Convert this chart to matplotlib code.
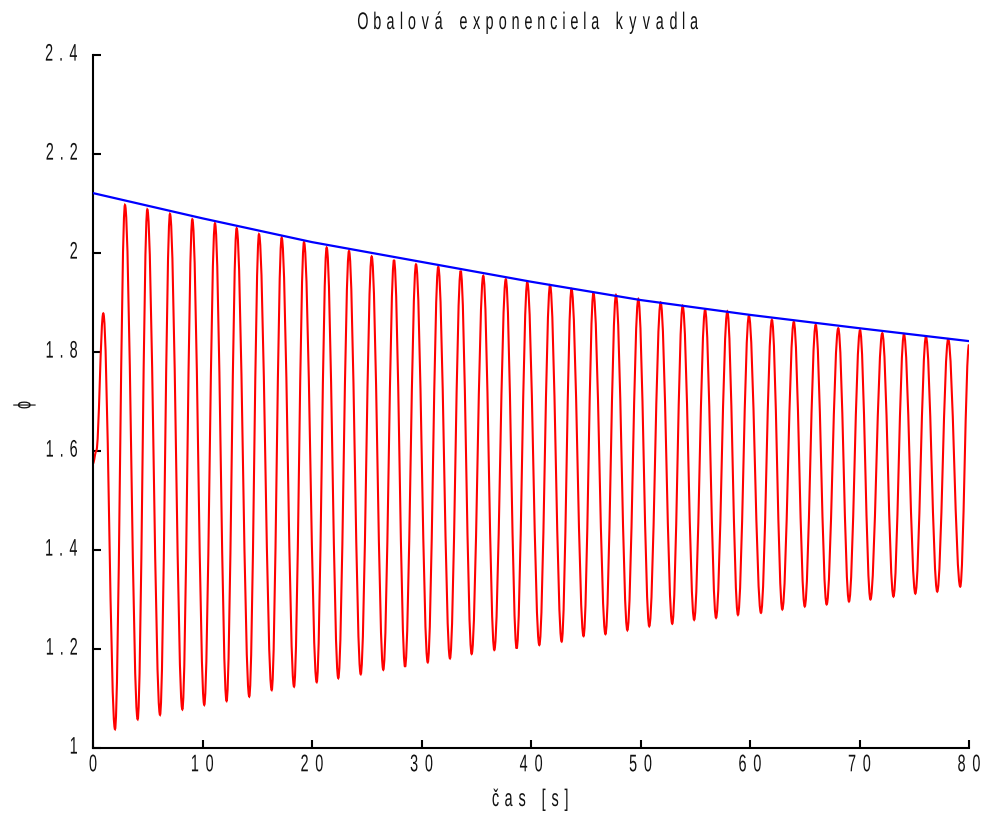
import matplotlib
matplotlib.use("Agg")
import matplotlib.pyplot as plt
import numpy as np
from matplotlib.textpath import TextPath
from matplotlib.font_manager import FontProperties
from matplotlib.path import Path
from matplotlib.patches import PathPatch
from matplotlib.transforms import Affine2D

# --- data ---
start_t = [0.0, 0.3]
start_v = [1.575, 1.600]

peak_t = [0.94, 2.92, 4.96, 7.03, 9.07, 11.14, 13.12, 15.16, 17.23, 19.27,
          21.34, 23.38, 25.45, 27.49, 29.50, 31.53, 33.58, 35.64, 37.70, 39.66,
          41.74, 43.70, 45.70, 47.76, 49.80, 51.84, 53.85, 55.90, 57.93, 59.90,
          62.00, 64.00, 66.00, 68.06, 70.05, 72.08, 74.06, 76.07, 78.10]
peak_v = [1.878, 2.097, 2.088, 2.079, 2.068, 2.060, 2.050, 2.038, 2.031, 2.022,
          2.011, 2.004, 1.993, 1.986, 1.977, 1.972, 1.964, 1.954, 1.947, 1.941,
          1.935, 1.927, 1.919, 1.915, 1.907, 1.900, 1.893, 1.885, 1.882, 1.873,
          1.865, 1.861, 1.855, 1.848, 1.844, 1.838, 1.836, 1.831, 1.826]

trough_t = [2.01, 4.08, 6.12, 8.16, 10.16, 12.20, 14.27, 16.32, 18.36, 20.43,
            22.40, 24.45, 26.51, 28.50, 30.57, 32.60, 34.58, 36.65, 38.69, 40.76,
            42.80, 44.80, 46.80, 48.80, 50.80, 52.90, 54.90, 56.90, 58.90, 61.00,
            62.95, 65.00, 67.00, 69.04, 71.00, 73.10, 75.10, 77.10, 79.20]
trough_v = [1.038, 1.058, 1.067, 1.078, 1.087, 1.095, 1.104, 1.117, 1.124, 1.133,
            1.141, 1.149, 1.158, 1.164, 1.173, 1.181, 1.190, 1.198, 1.201, 1.208,
            1.215, 1.226, 1.230, 1.238, 1.246, 1.251, 1.259, 1.263, 1.269, 1.273,
            1.280, 1.286, 1.290, 1.296, 1.300, 1.306, 1.312, 1.316, 1.326]

end_t = [80.0]
end_v = [1.815]

env_t = [0, 10, 20, 30, 40, 50, 60, 70, 80]
env_v = [2.121, 2.070, 2.022, 1.982, 1.942, 1.905, 1.875, 1.848, 1.822]

xticks = [0, 10, 20, 30, 40, 50, 60, 70, 80]
yticks = [1.0, 1.2, 1.4, 1.6, 1.8, 2.0, 2.2, 2.4]
xtick_labels = ["0", "10", "20", "30", "40", "50", "60", "70", "80"]
ytick_labels = ["1", "1.2", "1.4", "1.6", "1.8", "2", "2.2", "2.4"]

title = "Obalová exponenciela kyvadla"
xlabel = "čas [s]"
ylabel = "ϕ"

W_PX, H_PX = 984, 818

# --- merge the read extrema into one ordered series ---
t_all = np.array(start_t + peak_t + trough_t + end_t)
v_all = np.array(start_v + peak_v + trough_v + end_v)
order = np.argsort(t_all)
t_all = t_all[order]
v_all = v_all[order]

fig = plt.figure(figsize=(W_PX / 100, H_PX / 100), dpi=100)
ax = fig.add_axes([93 / W_PX, 1 - 748 / H_PX, (969 - 93) / W_PX, (748 - 55) / H_PX])

# red curve: smooth strokes through the extrema (horizontal tangents at turning points)
K = 0.364
verts = [(t_all[0], v_all[0])]
codes = [Path.MOVETO]
for i in range(1, len(t_all)):
    t0, v0, t1, v1 = t_all[i - 1], v_all[i - 1], t_all[i], v_all[i]
    d = (t1 - t0) * K
    verts += [(t0 + d, v0), (t1 - d, v1), (t1, v1)]
    codes += [Path.CURVE4] * 3
ax.add_patch(PathPatch(Path(verts, codes), facecolor="none", edgecolor="#ff0000",
                       lw=1.5, zorder=2))
ax.plot(env_t, env_v, color="#0000ff", lw=1.6, zorder=3)

ax.set_xlim(0, 80)
ax.set_ylim(1, 2.4)
ax.set_xticks(xticks)
ax.set_yticks(yticks)
ax.set_xticklabels([])
ax.set_yticklabels([])

for s in ["top", "right"]:
    ax.spines[s].set_visible(False)
for s in ["left", "bottom"]:
    ax.spines[s].set_linewidth(1.5)
    ax.spines[s].set_color("black")
ax.tick_params(axis="both", direction="in", length=6, width=1.5, colors="black")

# --- condensed, letter-spaced text drawn as glyph paths ---
FP = FontProperties(family=["Liberation Sans", "DejaVu Sans"])
EM = 24.0
SX = 0.6
CAP = 0.72 * EM


def spaced_path(s, gap, space):
    paths = []
    x = 0.0
    for ch in s:
        if ch == " ":
            x += space
            continue
        tp = TextPath((0, 0), ch, size=EM, prop=FP)
        ext = tp.get_extents()
        v = np.array(tp.vertices, dtype=float)
        v[:, 0] = (v[:, 0] - ext.x0) * SX + x
        paths.append(Path(v, tp.codes))
        x += ext.width * SX + gap
    return Path.make_compound_path(*paths), x - gap


def draw_text(px, py, s, ha="center", va="center", rotation=0, gap=6.4, space=11):
    path, width = spaced_path(s, gap, space)
    dx = {"left": 0.0, "center": -width / 2, "right": -width}[ha]
    dy = {"baseline": 0.0, "center": -CAP / 2, "top": -CAP, "bottom": 0.0}[va]
    tr = Affine2D().translate(dx, dy).rotate_deg(rotation).translate(px, py)
    fig.add_artist(PathPatch(path, facecolor="#111111", edgecolor="none",
                             transform=tr, lw=0))


fig.canvas.draw()
for v, lab in zip(yticks, ytick_labels):
    px, py = ax.transData.transform((0, v))
    draw_text(px - 16, py + 3, lab, ha="right", va="center", gap=8)
for v, lab in zip(xticks, xtick_labels):
    px, py = ax.transData.transform((v, 1.0))
    draw_text(px, H_PX - 754, lab, ha="center", va="top", gap=8)

draw_text(528, H_PX - 29, title, ha="center", va="baseline", gap=6.4, space=11)
draw_text(530, H_PX - 806, xlabel, ha="center", va="baseline", gap=6.4, space=11)
draw_text(22, H_PX - 405, ylabel, ha="center", va="center", rotation=90)

fig.savefig("out.png", dpi=100)
